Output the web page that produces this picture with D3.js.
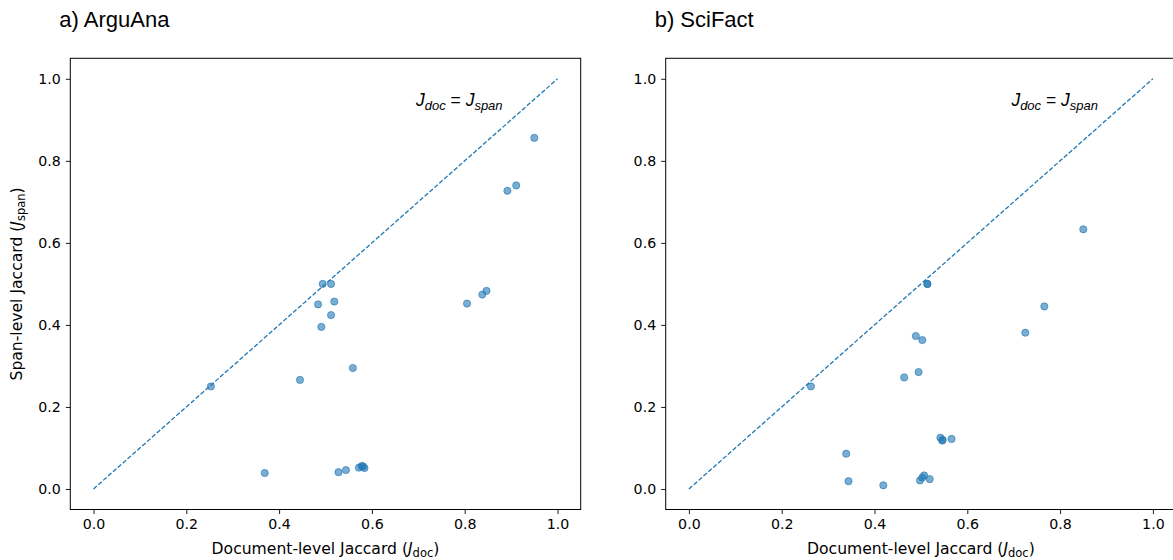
<!DOCTYPE html>
<html>
<head>
<meta charset="utf-8">
<script src="https://cdn.jsdelivr.net/npm/d3@7"></script>
<style>
  body { margin: 0; background: #fff; }
  svg { display: block; font-family: "Liberation Sans", Arial, sans-serif; }
</style>
</head>
<body>
<svg id="chart" width="1173" height="560"></svg>
<script>
const panelTitles = ["a) ArguAna", "b) SciFact"];
const tickValues = [0.0, 0.2, 0.4, 0.6, 0.8, 1.0];

const arguanaDoc  = [0.950, 0.892, 0.911, 0.494, 0.512, 0.484, 0.519, 0.512, 0.805, 0.838, 0.847,
                     0.491, 0.253, 0.445, 0.559, 0.369, 0.528, 0.544, 0.572, 0.578, 0.581, 0.584];
const arguanaSpan = [0.856, 0.727, 0.740, 0.500, 0.500, 0.450, 0.457, 0.424, 0.452, 0.474, 0.483,
                     0.395, 0.250, 0.266, 0.295, 0.039, 0.041, 0.046, 0.052, 0.056, 0.055, 0.051];

const scifactDoc  = [0.850, 0.514, 0.514, 0.766, 0.725, 0.489, 0.503, 0.464, 0.495, 0.263,
                     0.542, 0.546, 0.547, 0.566, 0.339, 0.344, 0.419, 0.498, 0.507, 0.503, 0.519];
const scifactSpan = [0.633, 0.500, 0.500, 0.445, 0.381, 0.373, 0.363, 0.272, 0.285, 0.250,
                     0.125, 0.118, 0.120, 0.122, 0.086, 0.019, 0.009, 0.021, 0.033, 0.028, 0.024];

const panels = [
  { title: panelTitles[0], doc: arguanaDoc, span: arguanaSpan, left: 70.3, showY: true },
  { title: panelTitles[1], doc: scifactDoc, span: scifactSpan, left: 665.7, showY: false }
];

const svg = d3.select("#chart");
const color = "#1f77b4";
const W = 510.4, plotTop = 58.3, H = 451.2;

panels.forEach(p => {
  const x = d3.scaleLinear().domain([-0.05, 1.05]).range([p.left, p.left + W]);
  const y = d3.scaleLinear().domain([-0.05, 1.05]).range([plotTop + H, plotTop]);
  const g = svg.append("g");

  // diagonal
  g.append("line")
    .attr("x1", x(0)).attr("y1", y(0)).attr("x2", x(1)).attr("y2", y(1))
    .attr("stroke", color).attr("stroke-width", 1.3).attr("stroke-dasharray", "4.5,2");

  // points
  g.selectAll("circle").data(p.doc.map((d, i) => [d, p.span[i]]))
    .enter().append("circle")
    .attr("cx", d => x(d[0])).attr("cy", d => y(d[1])).attr("r", 3.6)
    .attr("fill", color).attr("fill-opacity", 0.6)
    .attr("stroke", color).attr("stroke-opacity", 0.6).attr("stroke-width", 1);

  // axes
  const xa = g.append("g").attr("transform", `translate(0,${plotTop + H})`)
    .call(d3.axisBottom(x).tickValues(tickValues).tickFormat(d3.format(".1f")).tickSizeOuter(0).tickSize(4.5).tickPadding(5));
  const ya = g.append("g").attr("transform", `translate(${p.left},0)`)
    .call(d3.axisLeft(y).tickValues(tickValues).tickFormat(d3.format(".1f")).tickSizeOuter(0).tickSize(4.5).tickPadding(5));
  [xa, ya].forEach(a => {
    a.select(".domain").remove();
    a.selectAll("text").attr("fill", "#000")
      .attr("font-family", "'DejaVu Sans', sans-serif").style("font-size", "14.2px");
    a.selectAll("line").attr("stroke", "#000").attr("stroke-width", 0.9);
  });

  // frame
  g.append("rect").attr("x", p.left).attr("y", plotTop).attr("width", W).attr("height", H)
    .attr("fill", "none").attr("stroke", "#000").attr("stroke-width", 1);

  // title
  g.append("text").attr("x", p.left - 11).attr("y", 27).attr("font-size", 22).text(p.title);

  // annotation
  const ann = g.append("text").attr("x", x(0.695)).attr("y", y(0.945) + 5).attr("font-size", 17.5);
  ann.append("tspan").attr("font-style", "italic").text("J");
  ann.append("tspan").attr("font-style", "italic").attr("font-size", 13).attr("dy", 4).text("doc");
  ann.append("tspan").attr("dy", -4).text(" = ");
  ann.append("tspan").attr("font-style", "italic").text("J");
  ann.append("tspan").attr("font-style", "italic").attr("font-size", 13).attr("dy", 4).text("span");

  // x label
  const xl = g.append("text").attr("x", x(0.5)).attr("y", 554).attr("text-anchor", "middle")
    .attr("font-size", 15.6).attr("font-family", "'DejaVu Sans', sans-serif");
  xl.append("tspan").text("Document-level Jaccard (");
  xl.append("tspan").attr("font-style", "italic").text("J");
  xl.append("tspan").attr("font-size", 11.5).attr("dy", 3).text("doc");
  xl.append("tspan").attr("dy", -3).text(")");

  if (p.showY) {
    const yl = g.append("text").attr("transform", `translate(22,${y(0.5)}) rotate(-90)`)
      .attr("text-anchor", "middle").attr("font-size", 15.6).attr("font-family", "'DejaVu Sans', sans-serif");
    yl.append("tspan").text("Span-level Jaccard (");
    yl.append("tspan").attr("font-style", "italic").text("J");
    yl.append("tspan").attr("font-size", 11.5).attr("dy", 3).text("span");
    yl.append("tspan").attr("dy", -3).text(")");
  }
});
</script>
</body>
</html>
